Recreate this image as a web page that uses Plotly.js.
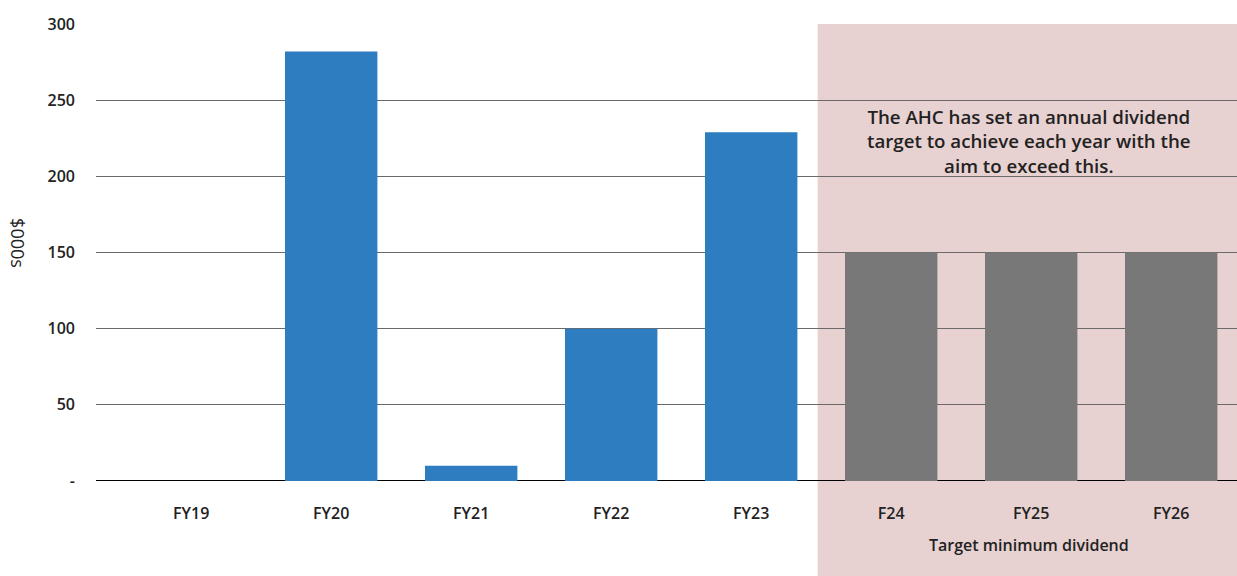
<!DOCTYPE html>
<html>
<head>
<meta charset="utf-8">
<script src="https://cdn.plot.ly/plotly-3.0.1.min.js"></script>
<style>
  html, body { margin: 0; padding: 0; background: #fff; }
  #chart { width: 1237px; height: 576px; }
</style>
</head>
<body>
<div id="chart"></div>
<script>
// Dividends paid (actual) and target minimum dividends, $000s
const years = ['FY19', 'FY20', 'FY21', 'FY22', 'FY23', 'F24', 'FY25', 'FY26'];
const actualYears = ['FY19', 'FY20', 'FY21', 'FY22', 'FY23'];
const actualValues = [0, 282, 10, 100, 229];
const targetYears = ['F24', 'FY25', 'FY26'];
const targetValues = [150, 150, 150];
const yTickVals = [0, 50, 100, 150, 200, 250, 300];
const yTickText = ['-', '50', '100', '150', '200', '250', '300'];

const FONT = '"Open Sans", "Noto Sans", sans-serif';
const INK = '#222222';

const traces = [
  {
    type: 'bar', x: actualYears, y: actualValues, width: 0.66,
    marker: { color: '#2E7DC0' }, hoverinfo: 'x+y', showlegend: false
  },
  {
    type: 'bar', x: targetYears, y: targetValues, width: 0.66,
    marker: { color: '#787878' }, hoverinfo: 'x+y', showlegend: false
  }
];

const layout = {
  width: 1237, height: 576,
  margin: { l: 96, r: 0, t: 24, b: 95 },
  paper_bgcolor: '#ffffff', plot_bgcolor: '#ffffff',
  font: { family: FONT, color: INK },
  barmode: 'overlay',
  showlegend: false,
  xaxis: {
    type: 'category', categoryorder: 'array', categoryarray: years,
    range: [-0.68, 7.47],
    showgrid: false, zeroline: false, showline: false, ticks: '',
    ticklabelstandoff: 21,
    tickfont: { family: FONT, size: 16, color: INK, weight: 600 },
    fixedrange: true
  },
  yaxis: {
    range: [0, 300], tickmode: 'array', tickvals: yTickVals, ticktext: yTickText,
    showgrid: true, gridcolor: '#6a6a6a', gridwidth: 1,
    zeroline: false, showline: false, ticks: '',
    ticklabelstandoff: 20,
    tickfont: { family: FONT, size: 16, color: INK, weight: 600 },
    fixedrange: true
  },
  shapes: [
    // forecast period panel
    {
      type: 'rect', layer: 'between', xref: 'x', yref: 'paper',
      x0: 4.475, x1: 7.6, y0: -0.3, y1: 1,
      fillcolor: 'rgb(224,194,194)', opacity: 0.75, line: { width: 0 }
    },
    // baseline
    {
      type: 'line', layer: 'between', xref: 'paper', yref: 'y',
      x0: 0, x1: 1, y0: 0, y1: 0,
      line: { color: '#000000', width: 2 }
    }
  ],
  annotations: [
    {
      xref: 'paper', yref: 'paper', x: -0.069, y: 0.52, xanchor: 'center', yanchor: 'middle',
      text: '$000s', showarrow: false, textangle: 90,
      font: { family: FONT, size: 18, color: INK }
    },
    {
      xref: 'paper', yref: 'y', x: 0.818, y: 249, xanchor: 'center', yanchor: 'top',
      text: 'The AHC has set an annual dividend<br>target to achieve each year with the<br>aim to exceed this.',
      showarrow: false, align: 'center',
      font: { family: FONT, size: 18.7, color: INK, weight: 600 }
    },
    {
      xref: 'paper', yref: 'paper', x: 0.818, y: -0.14, xanchor: 'center', yanchor: 'middle',
      text: 'Target minimum dividend', showarrow: false,
      font: { family: FONT, size: 16, color: INK, weight: 600 }
    }
  ]
};

Plotly.newPlot('chart', traces, layout, { staticPlot: true, displayModeBar: false });
</script>
</body>
</html>
